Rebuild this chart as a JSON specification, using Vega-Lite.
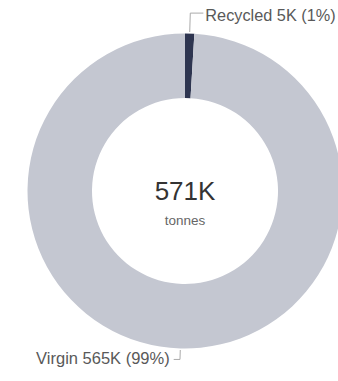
{
  "$schema": "https://vega.github.io/schema/vega-lite/v6.json",
  "width": 315,
  "height": 315,
  "padding": {"left": 27.5, "top": 33.5, "right": 0, "bottom": 32.5},
  "autosize": {"type": "none"},
  "background": "white",
  "config": {"view": {"stroke": null}, "font": "Liberation Sans"},
  "data": {"values": [
    {"source": "Recycled", "value": 5.4},
    {"source": "Virgin", "value": 565.4}
  ]},
  "transform": [
    {"joinaggregate": [{"op": "sum", "field": "value", "as": "total"}]},
    {"window": [{"op": "sum", "field": "value", "as": "cum"}], "sort": [{"field": "source"}], "frame": [null, 0]},
    {"calculate": "2*PI*(datum.cum - datum.value/2)/datum.total", "as": "mid"},
    {"calculate": "sin(datum.mid)", "as": "sx"},
    {"calculate": "cos(datum.mid)", "as": "cy"},
    {"calculate": "datum.cy > 0 ? 1.13 : 1.07", "as": "r1"},
    {"calculate": "datum.sx * 1.01", "as": "x0"},
    {"calculate": "datum.cy * 1.01", "as": "y0"},
    {"calculate": "datum.sx * datum.r1", "as": "x1"},
    {"calculate": "datum.cy * datum.r1", "as": "y1"},
    {"calculate": "datum.x1 + (datum.sx > 0 ? 0.083 : -0.04)", "as": "x2"},
    {"calculate": "datum.source + ' ' + format(datum.value, '.0f') + 'K (' + format(datum.value/datum.total, '.0%') + ')'", "as": "label"}
  ],
  "layer": [
    {
      "mark": {"type": "arc", "outerRadius": 157.5, "innerRadius": 93},
      "encoding": {
        "theta": {"field": "value", "type": "quantitative", "stack": true},
        "color": {"field": "source", "type": "nominal", "legend": null,
          "scale": {"domain": ["Recycled", "Virgin"], "range": ["#2e3550", "#c4c7d1"]}}
      }
    },
    {
      "mark": {"type": "rule", "color": "#aaaaaa", "strokeWidth": 1},
      "encoding": {
        "x": {"field": "x0", "type": "quantitative", "axis": null, "scale": {"domain": [-1, 1], "nice": false, "zero": false}},
        "y": {"field": "y0", "type": "quantitative", "axis": null, "scale": {"domain": [-1, 1], "nice": false, "zero": false}},
        "x2": {"field": "x1"},
        "y2": {"field": "y1"}
      }
    },
    {
      "mark": {"type": "rule", "color": "#aaaaaa", "strokeWidth": 1},
      "encoding": {
        "x": {"field": "x1", "type": "quantitative"},
        "y": {"field": "y1", "type": "quantitative"},
        "x2": {"field": "x2"},
        "y2": {"field": "y1"}
      }
    },
    {
      "transform": [{"filter": "datum.cy > 0"}],
      "mark": {"type": "text", "align": "left", "baseline": "middle", "dx": 2, "dy": 3, "fontSize": 16.3, "color": "#595959"},
      "encoding": {
        "x": {"field": "x2", "type": "quantitative"},
        "y": {"field": "y1", "type": "quantitative"},
        "text": {"field": "label"}
      }
    },
    {
      "transform": [{"filter": "datum.cy < 0"}],
      "mark": {"type": "text", "align": "right", "baseline": "middle", "dx": -4, "dy": 0, "fontSize": 16.5, "color": "#595959"},
      "encoding": {
        "x": {"field": "x2", "type": "quantitative"},
        "y": {"field": "y1", "type": "quantitative"},
        "text": {"field": "label"}
      }
    },
    {
      "transform": [
        {"aggregate": [{"op": "sum", "field": "value", "as": "t"}]},
        {"calculate": "format(datum.t, '.0f') + 'K'", "as": "tl"}
      ],
      "mark": {"type": "text", "align": "center", "baseline": "alphabetic", "dy": 9, "fontSize": 26, "color": "#333333"},
      "encoding": {
        "x": {"datum": 0, "type": "quantitative"},
        "y": {"datum": 0, "type": "quantitative"},
        "text": {"field": "tl"}
      }
    },
    {
      "transform": [{"aggregate": [{"op": "count", "as": "n"}]}, {"calculate": "'tonnes'", "as": "unit"}],
      "mark": {"type": "text", "align": "center", "baseline": "alphabetic", "dy": 34, "fontSize": 13.5, "color": "#666666"},
      "encoding": {
        "x": {"datum": 0, "type": "quantitative"},
        "y": {"datum": 0, "type": "quantitative"},
        "text": {"field": "unit"}
      }
    }
  ]
}
